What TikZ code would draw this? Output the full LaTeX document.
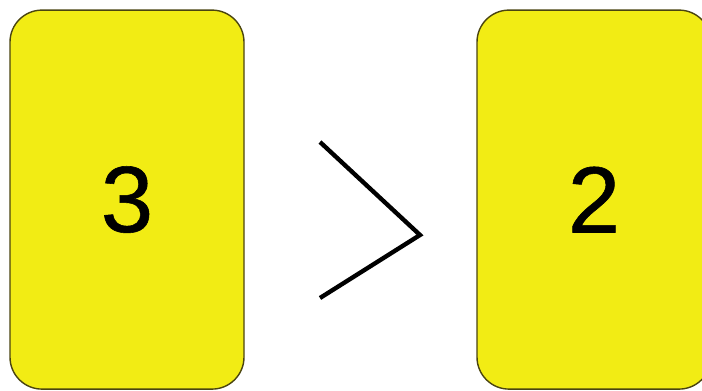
\documentclass[tikz,border=0pt]{standalone}
\usepackage{fontspec}
\setmainfont{Liberation Sans}
\usetikzlibrary{positioning}
\definecolor{CardYellow}{HTML}{F2EC14}
\definecolor{CardEdge}{HTML}{4A4410}
\definecolor{Ink}{HTML}{000000}

\begin{document}
\begin{tikzpicture}[
  card/.style={draw=CardEdge,line width=1pt,rounded corners=0.8cm,fill=CardYellow,minimum width=5.85cm,minimum height=9.475cm,inner sep=0pt,font=\fontsize{67}{67}\selectfont,text=Ink},
  relsign/.style={draw=Ink,line width=3.1pt,line join=miter}
]
\useasboundingbox (0,0) rectangle (17.55,9.75);
\node[card] (left) at (3.175,4.76) {\addfontfeature{FakeBold=0.6}3};
\node[card] (right) at (14.85,4.76) {\addfontfeature{FakeBold=0.6}2};
\coordinate (gttop) at (8.0,6.2);
\coordinate (gtapex) at (10.5,3.875);
\coordinate (gtbot) at (8.0,2.3);
\draw[relsign] (gttop) -- (gtapex) -- (gtbot);
\end{tikzpicture}
\end{document}
